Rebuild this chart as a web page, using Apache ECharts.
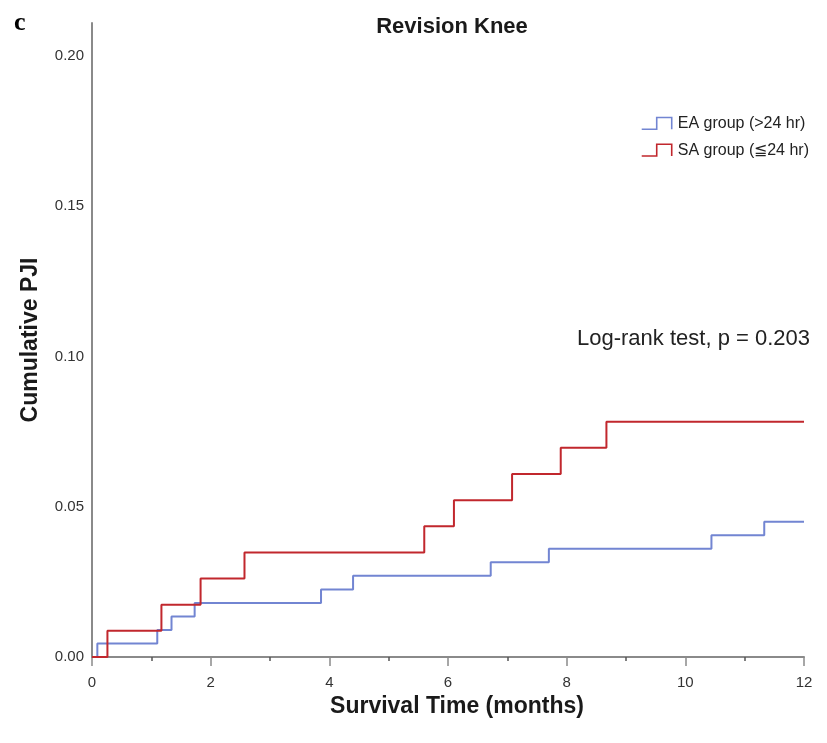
<!DOCTYPE html>
<html>
<head>
<meta charset="utf-8">
<script src="https://cdn.jsdelivr.net/npm/echarts@6/dist/echarts.min.js"></script>
<style>html,body{margin:0;padding:0;background:#fff}#c{width:827px;height:743px}</style>
</head>
<body>
<div id="c"></div>
<script>
const xTicks = [0, 2, 4, 6, 8, 10, 12];
const yTicks = [0.00, 0.05, 0.10, 0.15, 0.20];
const eaTimes  = [0, 0.09, 1.10, 1.34, 1.73, 3.86, 4.40, 6.72, 7.70, 10.44, 11.33, 12];
const eaValues = [0, 0.0045, 0.009, 0.0135, 0.018, 0.0225, 0.027, 0.0315, 0.036, 0.0405, 0.045, 0.045];
const saTimes  = [0, 0.26, 1.17, 1.83, 2.57, 5.60, 6.10, 7.08, 7.90, 8.67, 12];
const saValues = [0, 0.0087, 0.0174, 0.0261, 0.0348, 0.0435, 0.0522, 0.0609, 0.0696, 0.0783, 0.0783];
const seriesNames = ['EA group (>24 hr)', 'SA group (\u226624 hr)'];
const colors = ['#7285d2', '#c1272d'];

const chart = echarts.init(document.getElementById('c'), null, {renderer: 'canvas'});
const stepIcon = 'path://M0,12 L14,12 L14,1 L28,1 L28,12';
const font = '"Liberation Sans", Arial, sans-serif';
chart.setOption({
  animation: false,
  backgroundColor: '#fff',
  title: {
    text: 'Revision Knee', left: 447, top: 11, textAlign: 'center',
    textStyle: {fontFamily: font, fontSize: 22, fontWeight: 'bold', color: '#1a1a1a'}
  },
  legend: {
    right: 13, top: 110, orient: 'vertical', itemGap: 10,
    itemWidth: 30, itemHeight: 14, icon: stepIcon,
    textStyle: {fontFamily: font, fontSize: 16, color: '#222', padding: [0,0,0,1]},
    data: seriesNames.map((n, i) => ({name: n, itemStyle: {color: 'none', borderColor: colors[i], borderWidth: 1.6}}))
  },
  grid: {left: 92, right: 23, top: 23, bottom: 86},
  xAxis: {
    type: 'value', min: 0, max: 12, interval: 2,
    name: 'Survival Time (months)', nameLocation: 'middle', nameGap: 38,
    nameTextStyle: {fontFamily: font, fontSize: 23, fontWeight: 'bold', color: '#1a1a1a', padding: [0,0,0,18]},
    axisLine: {lineStyle: {color: '#8a8a8a', width: 2}},
    axisTick: {show: true, length: 9, lineStyle: {color: '#8a8a8a', width: 1.5}},
    minorTick: {show: true, splitNumber: 2, length: 4, lineStyle: {color: '#555', width: 1.5}},
    axisLabel: {fontFamily: font, fontSize: 15, color: '#333', margin: 18,
      formatter: v => xTicks.includes(v) ? String(v) : ''},
    splitLine: {show: false}
  },
  yAxis: {
    type: 'value', min: 0, max: 0.211, interval: 0.05,
    name: 'Cumulative PJI', nameLocation: 'middle', nameGap: 50,
    nameTextStyle: {fontFamily: font, fontSize: 23, fontWeight: 'bold', color: '#1a1a1a'},
    axisLine: {show: true, lineStyle: {color: '#8a8a8a', width: 2}},
    axisTick: {show: false},
    axisLabel: {fontFamily: font, fontSize: 15, color: '#333', margin: 8, showMaxLabel: false,
      formatter: v => {
        const f = yTicks.find(t => Math.abs(t - v) < 1e-9);
        return f === undefined ? '' : f.toFixed(2);
      }},
    splitLine: {show: false}
  },
  series: [
    {name: seriesNames[0], type: 'line', step: 'end', showSymbol: false, color: colors[0],
     lineStyle: {color: colors[0], width: 2}, data: eaTimes.map((t, i) => [t, eaValues[i]]), z: 3},
    {name: seriesNames[1], type: 'line', step: 'end', showSymbol: false, color: colors[1],
     lineStyle: {color: colors[1], width: 2}, data: saTimes.map((t, i) => [t, saValues[i]]), z: 4}
  ],
  graphic: [
    {type: 'text', left: 14, top: 10, style: {text: 'c', font: 'bold 26px "Liberation Serif", "Times New Roman", serif', fill: '#000'}},
    {type: 'text', right: 17, top: 328, style: {text: 'Log-rank test, p = 0.203', font: '22px "Liberation Sans", Arial, sans-serif', fill: '#222'}}
  ]
});
</script>
</body>
</html>
